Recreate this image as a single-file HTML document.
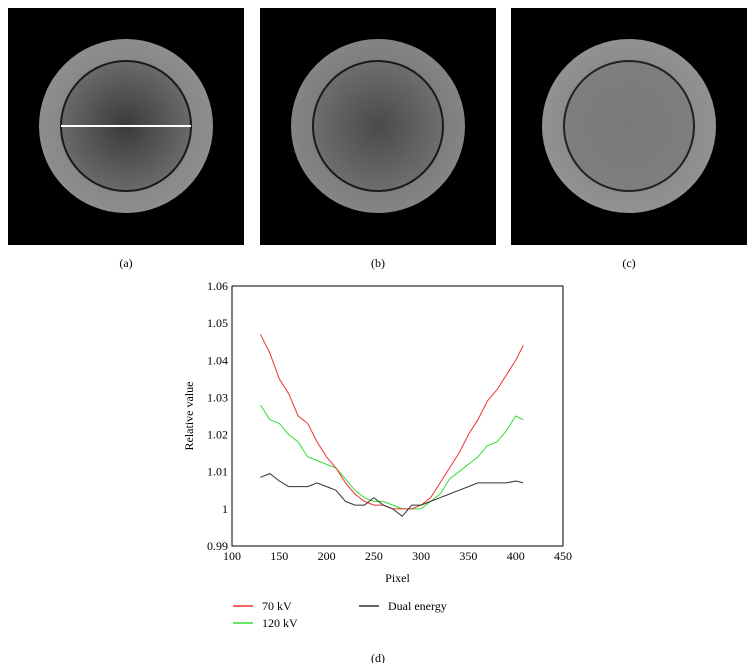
<!DOCTYPE html>
<html><head><meta charset="utf-8"><style>
body{margin:0;background:#fff;width:756px;height:663px;overflow:hidden;font-family:"Liberation Serif",serif;}
svg{position:absolute;left:0;top:0}
</style></head><body>
<svg width="756" height="663">
<defs>
<radialGradient id="ga" cx="50%" cy="50%" r="50%"><stop offset="0" stop-color="#3a3a3a"/><stop offset="0.75" stop-color="#6a6a6a"/><stop offset="0.76" stop-color="#888"/><stop offset="1" stop-color="#8e8e8e"/></radialGradient>
<radialGradient id="gb" cx="50%" cy="50%" r="50%"><stop offset="0" stop-color="#4a4a4a"/><stop offset="0.75" stop-color="#6e6e6e"/><stop offset="0.76" stop-color="#7e7e7e"/><stop offset="1" stop-color="#858585"/></radialGradient>
<radialGradient id="gc" cx="50%" cy="50%" r="50%"><stop offset="0" stop-color="#7a7a7a"/><stop offset="0.75" stop-color="#7e7e7e"/><stop offset="0.76" stop-color="#8c8c8c"/><stop offset="1" stop-color="#929292"/></radialGradient>
</defs>
<g>
<rect x="8" y="8" width="236" height="237" fill="#000"/>
<circle cx="126" cy="126" r="87" fill="url(#ga)"/>
<circle cx="126" cy="126" r="65" fill="none" stroke="#1a1a1a" stroke-width="2"/>
<line x1="61" y1="126" x2="191" y2="126" stroke="#fff" stroke-width="2"/>
</g>
<text x="126" y="267" font-size="12" text-anchor="middle">(a)</text>
<g>
<rect x="260" y="8" width="236" height="237" fill="#000"/>
<circle cx="378" cy="126" r="87" fill="url(#gb)"/>
<circle cx="378" cy="126" r="65" fill="none" stroke="#1a1a1a" stroke-width="2"/>
</g>
<text x="378" y="267" font-size="12" text-anchor="middle">(b)</text>
<g>
<rect x="511" y="8" width="236" height="237" fill="#000"/>
<circle cx="629" cy="126" r="87" fill="url(#gc)"/>
<circle cx="629" cy="126" r="65" fill="none" stroke="#222" stroke-width="2"/>
</g>
<text x="629" y="267" font-size="12" text-anchor="middle">(c)</text>
<g id="chart"></g>
<text x="378" y="662" font-size="12" text-anchor="middle">(d)</text>
</svg>
<script>
const xs = [130,140,150,160,170,180,190,200,210,220,230,240,250,260,270,280,290,300,310,320,330,340,350,360,370,380,390,400,408];
const kv70 = [1.047,1.042,1.035,1.031,1.025,1.023,1.018,1.014,1.011,1.007,1.004,1.002,1.001,1.001,1.000,1.000,1.000,1.001,1.003,1.007,1.011,1.015,1.020,1.024,1.029,1.032,1.036,1.040,1.044];
const kv120 = [1.028,1.024,1.023,1.020,1.018,1.014,1.013,1.012,1.011,1.008,1.005,1.003,1.002,1.002,1.001,1.000,1.000,1.000,1.002,1.004,1.008,1.010,1.012,1.014,1.017,1.018,1.021,1.025,1.024];
const dual = [1.0085,1.0095,1.0075,1.006,1.006,1.006,1.007,1.006,1.005,1.002,1.001,1.001,1.003,1.001,1.000,0.998,1.001,1.001,1.002,1.003,1.004,1.005,1.006,1.007,1.007,1.007,1.007,1.0075,1.007];
const xTicks = [100,150,200,250,300,350,400,450];
const yTicks = [0.99,1,1.01,1.02,1.03,1.04,1.05,1.06];
const yTickLabels = ["0.99","1","1.01","1.02","1.03","1.04","1.05","1.06"];
const L=232,R=563,T=286,B=546;
const sx=v=>L+(v-100)/(450-100)*(R-L);
const sy=v=>B-(v-0.99)/(0.07)*(B-T);
const NS="http://www.w3.org/2000/svg";
const g=document.getElementById('chart');
function mk(t,a,txt){const e=document.createElementNS(NS,t);for(const k in a)e.setAttribute(k,a[k]);if(txt!=null)e.textContent=txt;g.appendChild(e);return e;}
const box=mk('rect',{x:L,y:T,width:R-L,height:B-T,fill:'none',stroke:'#000','stroke-width':1});


xTicks.forEach(v=>{
  const t=mk('text',{x:sx(v),y:B+14,'font-size':12,'text-anchor':'middle'},String(v));
  
  
});
yTicks.forEach((v,i)=>{
  const t=mk('text',{x:L-4,y:sy(v)+4,'font-size':12,'text-anchor':'end'},yTickLabels[i]);
  
  
});
const xt=mk('text',{x:(L+R)/2,y:582,'font-size':12,'text-anchor':'middle'},'Pixel');


const yt=mk('text',{x:0,y:0,'font-size':12,'text-anchor':'middle',transform:`translate(193,${(T+B)/2}) rotate(-90)`},'Relative value');


function line(arr,col,name){
  const d=arr.map((v,i)=>(i?'L':'M')+sx(xs[i]).toFixed(1)+','+sy(v).toFixed(1)).join('');
  const p=mk('path',{d:d,fill:'none',stroke:col,'stroke-width':1});
  
  
}
line(kv120,'#33dd33','series-120kv');
line(kv70,'#ee3333','series-70kv');
line(dual,'#333','series-dual-energy');
function leg(x1,y,col,txt,name){
  const l=mk('line',{x1:x1,y1:y,x2:x1+20,y2:y,stroke:col,'stroke-width':1.5});
  
  
  const t=mk('text',{x:x1+29,y:y+4,'font-size':12},txt);
  
  
}
leg(233,606,'#ee3333','70 kV','legend-70kv');
leg(233,623,'#33dd33','120 kV','legend-120kv');
leg(359,606,'#333','Dual energy','legend-dual-energy');
</script>
</body></html>
